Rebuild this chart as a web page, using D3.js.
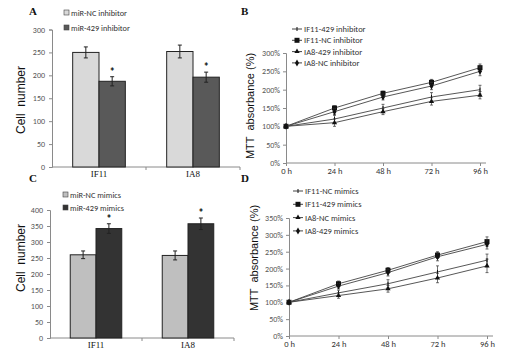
<!DOCTYPE html>
<html><head><meta charset="utf-8">
<script src="https://cdn.jsdelivr.net/npm/d3@7"></script>
<style>body{margin:0;background:#fff}svg{display:block}</style>
</head><body>
<svg id="c" width="510" height="351"></svg>
<script>
// ---- data ----
const cellLines = ["IF11", "IA8"];
// Panel A
const seriesA = ["miR-NC inhibitor", "miR-429 inhibitor"];
const valuesA = [[250, 187], [252, 196]]; // per cell line: [NC, 429]
const errorsA = [[12, 10], [14, 11]];
const ticksA = [0, 50, 100, 150, 200, 250, 300];
// Panel C
const seriesC = ["miR-NC mimics", "miR-429 mimics"];
const valuesC = [[260, 342], [258, 357]];
const errorsC = [[12, 15], [14, 18]];
const ticksC = [0, 50, 100, 150, 200, 250, 300, 350, 400];
// Panel B
const hours = ["0 h", "24 h", "48 h", "72 h", "96 h"];
const seriesB = ["IF11-429 inhibitor", "IF11-NC inhibitor", "IA8-429 inhibitor", "IA8-NC inhibitor"];
const valuesB = [
  [100, 120, 150, 180, 200],
  [100, 150, 190, 220, 260],
  [100, 110, 140, 168, 185],
  [100, 140, 180, 210, 250]
];
const errorsB = [
  [5, 10, 10, 12, 12],
  [5, 6, 6, 8, 10],
  [5, 10, 8, 10, 10],
  [5, 8, 8, 10, 12]
];
const ticksB = [0, 50, 100, 150, 200, 250, 300];
// Panel D
const seriesD = ["IF11-NC mimics", "IF11-429 mimics", "IA8-NC mimics", "IA8-429 mimics"];
const valuesD = [
  [100, 128, 155, 190, 225],
  [100, 155, 195, 240, 280],
  [100, 120, 140, 172, 208],
  [100, 148, 188, 235, 272]
];
const errorsD = [
  [5, 8, 12, 18, 18],
  [5, 8, 8, 10, 14],
  [5, 8, 10, 14, 20],
  [5, 8, 10, 12, 14]
];
const ticksD = [0, 50, 100, 150, 200, 250, 300, 350];

const svg = d3.select("#c");
const sans = "Calibri, Carlito, 'Liberation Sans', Arial, sans-serif";
const serif = "'Liberation Serif', 'Times New Roman', serif";
const axisCol = "#8a8a8a";
const txtCol = "#333";

function panelLetter(t, x, y) {
  svg.append("text").attr("x", x).attr("y", y).text(t)
    .attr("font-family", serif).attr("font-weight", "bold").attr("font-size", 11).attr("fill", "#111");
}
function yTitle(t, x, y, fs) {
  svg.append("text").attr("transform", `translate(${x},${y}) rotate(-90)`)
    .attr("text-anchor", "middle").attr("font-family", "'Liberation Sans', Arial, sans-serif")
    .attr("font-size", fs).attr("fill", "#111").attr("xml:space", "preserve").style("white-space", "pre").text(t);
}

function barPanel(o) {
  const y = d3.scaleLinear().domain([0, o.max]).range([o.y0, o.y1]);
  const xo = d3.scaleBand().domain(cellLines).range([o.x0, o.x1]);
  const xi = d3.scaleBand().domain([0, 1]).range([xo.bandwidth() * 0.22, xo.bandwidth() * 0.78]);
  const g = svg.append("g");
  // y axis
  const ya = g.append("g").attr("transform", `translate(${o.x0},0)`)
    .call(d3.axisLeft(y).tickValues(o.ticks).tickSize(3).tickPadding(4));
  ya.selectAll("path,line").attr("stroke", axisCol);
  ya.selectAll("text").attr("font-family", sans).attr("font-size", 8).attr("fill", "#555");
  // x axis
  g.append("line").attr("x1", o.x0).attr("x2", o.x1).attr("y1", o.y0).attr("y2", o.y0).attr("stroke", axisCol);
  [o.x0 + xo.step(), o.x1].forEach(t => g.append("line").attr("x1", t).attr("x2", t)
    .attr("y1", o.y0).attr("y2", o.y0 + 3).attr("stroke", axisCol));
  cellLines.forEach((c, ci) => {
    const gx = xo(c);
    g.append("text").attr("x", gx + xo.bandwidth() / 2).attr("y", o.y0 + 10).attr("text-anchor", "middle")
      .attr("font-family", serif).attr("font-size", 9).attr("fill", "#111").text(c);
    [0, 1].forEach(si => {
      const v = o.values[ci][si], e = o.errors[ci][si];
      const bx = gx + xi(si), bw = xi.bandwidth();
      g.append("rect").attr("x", bx).attr("y", y(v)).attr("width", bw).attr("height", y(0) - y(v))
        .attr("fill", o.colors[si]).attr("stroke", "#222").attr("stroke-width", 1);
      const cx = bx + bw / 2;
      g.append("line").attr("x1", cx).attr("x2", cx).attr("y1", y(v - e)).attr("y2", y(v + e)).attr("stroke", "#222");
      [v - e, v + e].forEach(t => g.append("line").attr("x1", cx - 2).attr("x2", cx + 2)
        .attr("y1", y(t)).attr("y2", y(t)).attr("stroke", "#222"));
      if (si === 1) g.append("text").attr("x", cx).attr("y", y(v + e) - 1).attr("text-anchor", "middle")
        .attr("font-family", sans).attr("font-weight", "bold").attr("font-size", 11).attr("fill", "#111").text("*");
    });
  });
  // legend
  o.series.forEach((s, i) => {
    const ly = o.legY + i * o.legStep;
    g.append("rect").attr("x", o.legX).attr("y", ly - 3).attr("width", 5).attr("height", 5)
      .attr("fill", o.colors[i]).attr("stroke", "#444").attr("stroke-width", 0.6);
    g.append("text").attr("x", o.legX + 7).attr("y", ly + 2.5).attr("font-family", sans)
      .attr("font-size", 8.3).attr("fill", txtCol).text(s);
  });
}

function marker(g, type, x, y) {
  const c = "#111";
  if (type === 0) {
    g.append("line").attr("x1", x).attr("x2", x).attr("y1", y - 2).attr("y2", y + 2).attr("stroke", c);
  } else if (type === 1) {
    g.append("rect").attr("x", x - 2.5).attr("y", y - 2.5).attr("width", 5).attr("height", 5).attr("fill", c);
  } else if (type === 2) {
    g.append("path").attr("d", d3.symbol(d3.symbolTriangle, 12)()).attr("transform", `translate(${x},${y})`).attr("fill", c);
  } else {
    g.append("path").attr("d", d3.symbol(d3.symbolDiamond, 14)()).attr("transform", `translate(${x},${y})`).attr("fill", c);
  }
}

function linePanel(o) {
  const x = d3.scalePoint().domain(hours).range([o.x0, o.x1]);
  const y = d3.scaleLinear().domain([0, o.max]).range([o.y0, o.y1]);
  const g = svg.append("g");
  const ya = g.append("g").attr("transform", `translate(${o.x0},0)`)
    .call(d3.axisLeft(y).tickValues(o.ticks).tickSize(3).tickPadding(3).tickFormat(d => d + "%"));
  ya.selectAll("path,line").attr("stroke", axisCol);
  ya.selectAll("text").attr("font-family", sans).attr("font-size", 8).attr("fill", "#555");
  const xa = g.append("g").attr("transform", `translate(0,${o.y0})`)
    .call(d3.axisBottom(x).tickSize(3).tickPadding(2));
  xa.selectAll("path,line").attr("stroke", axisCol);
  xa.select(".domain").attr("d", `M${o.x0},0H${o.x1 + 6}`);
  xa.selectAll("text").attr("font-family", sans).attr("font-size", 8.5).attr("fill", "#333");
  const line = d3.line().x((d, i) => x(hours[i])).y(d => y(d));
  o.values.forEach((vals, si) => {
    g.append("path").attr("d", line(vals)).attr("fill", "none").attr("stroke", "#444").attr("stroke-width", 0.9);
    vals.forEach((v, i) => {
      const e = o.errors[si][i], cx = x(hours[i]);
      g.append("line").attr("x1", cx).attr("x2", cx).attr("y1", y(v - e)).attr("y2", y(v + e)).attr("stroke", "#333").attr("stroke-width", 0.7);
      [v - e, v + e].forEach(t => g.append("line").attr("x1", cx - 1.5).attr("x2", cx + 1.5)
        .attr("y1", y(t)).attr("y2", y(t)).attr("stroke", "#333").attr("stroke-width", 0.7));
      marker(g, si, cx, y(v));
    });
  });
  o.series.forEach((s, i) => {
    const ly = o.legY + i * o.legStep;
    g.append("line").attr("x1", o.legX).attr("x2", o.legX + 10).attr("y1", ly).attr("y2", ly).attr("stroke", "#444");
    marker(g, i, o.legX + 5, ly);
    g.append("text").attr("x", o.legX + 12).attr("y", ly + 3).attr("font-family", sans)
      .attr("font-size", 8.5).attr("fill", txtCol).text(s);
  });
}

// Panel A
panelLetter("A", 29, 15);
yTitle("Cell  number", 25, 100, 12);
barPanel({x0: 52, x1: 240, y0: 167, y1: 29.5, max: 300, ticks: ticksA, values: valuesA, errors: errorsA,
  colors: ["#d9d9d9", "#595959"], series: seriesA, legX: 64, legY: 13, legStep: 15});
// Panel C
panelLetter("C", 29, 182);
yTitle("Cell  number", 25, 258, 12);
barPanel({x0: 50, x1: 234, y0: 338, y1: 210, max: 400, ticks: ticksC, values: valuesC, errors: errorsC,
  colors: ["#bfbfbf", "#333333"], series: seriesC, legX: 63, legY: 195, legStep: 13});
// Panel B
panelLetter("B", 241, 15);
yTitle("MTT  absorbance (%)", 254, 106, 11);
linePanel({x0: 286, x1: 480, y0: 163, y1: 53, max: 300, ticks: ticksB, values: valuesB, errors: errorsB,
  series: seriesB, legX: 292, legY: 29, legStep: 11.3});
// Panel D
panelLetter("D", 241, 182);
yTitle("MTT  absorbance (%)", 258, 258, 11);
linePanel({x0: 289, x1: 487, y0: 336, y1: 218, max: 350, ticks: ticksD, values: valuesD, errors: errorsD,
  series: seriesD, legX: 293, legY: 191, legStep: 13.3});
</script>
</body></html>
